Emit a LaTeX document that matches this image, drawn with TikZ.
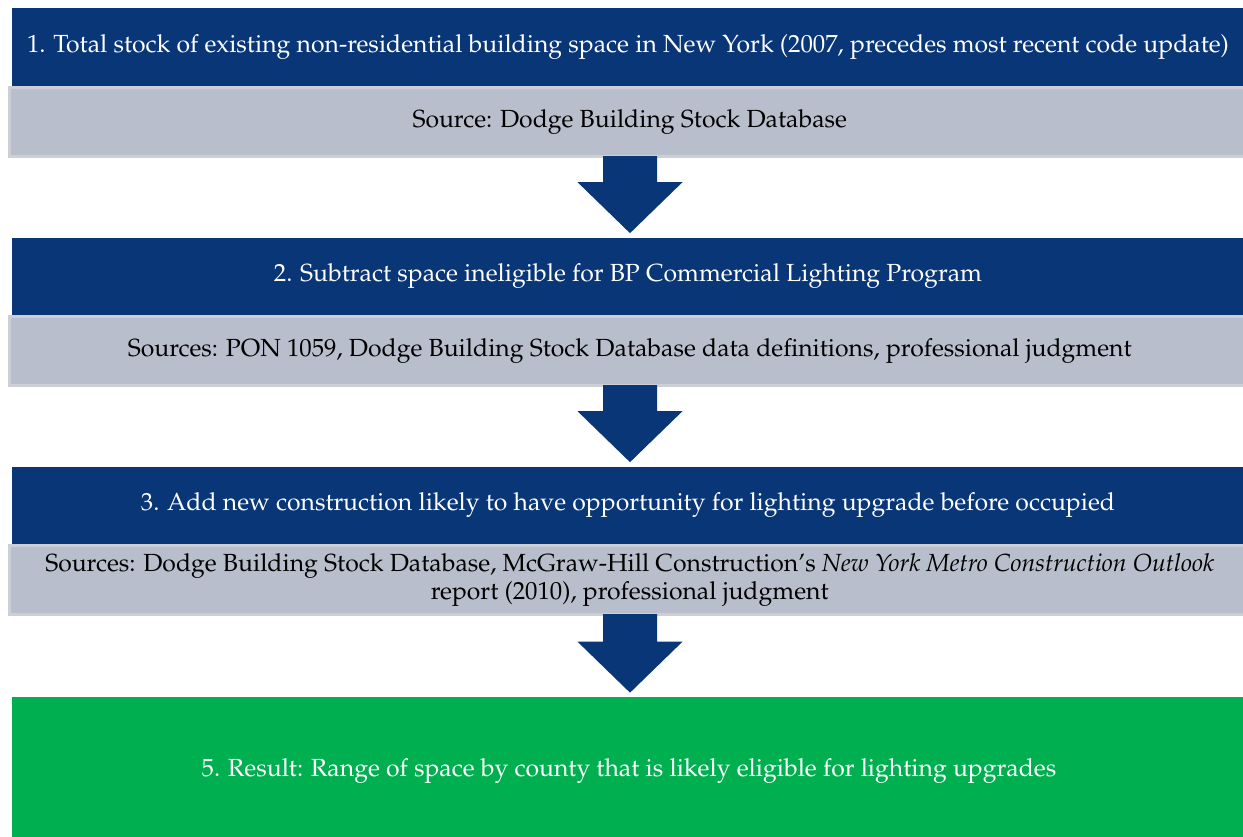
\documentclass[tikz,border=0pt]{standalone}
\usepackage[T1]{fontenc}
\usepackage{mathpazo}
\usetikzlibrary{calc}

\definecolor{stepblue}{RGB}{9,54,118}
\definecolor{srcgray}{RGB}{184,190,203}
\definecolor{srcedge}{RGB}{205,207,214}
\definecolor{resgreen}{RGB}{0,176,80}

\newcommand{\flowarrow}[2]{%
  \fill[stepblue] ($(#1.south -| ax)+(-27,-2)$) -- ($(#1.south -| ax)+(27,-2)$)
    -- ($(#2.north -| ax)+(27,-55)$) -- ($(#2.north -| ax)+(52.5,-55)$)
    -- ($(#2.north -| ax)+(0,-4)$) -- ($(#2.north -| ax)+(-52.5,-55)$)
    -- ($(#2.north -| ax)+(-27,-55)$) -- cycle;}

\begin{document}
\begin{tikzpicture}[x=0.02cm, y=-0.02cm,
    stepbox/.style={fill=stepblue, text=white, minimum width=24.64cm,
      minimum height=1.56cm, inner sep=0pt, font=\fontsize{14.1}{17}\selectfont},
    srcbox/.style={fill=srcgray, draw=srcedge, line width=0.06cm, text=black,
      minimum width=24.81cm, minimum height=1.38cm, inner sep=0pt, align=center,
      font=\fontsize{14.1}{16}\selectfont},
    resbox/.style={fill=resgreen, text=white, minimum width=24.68cm,
      minimum height=2.96cm, inner sep=0pt, font=\fontsize{14.1}{17}\selectfont}
    ]
    \clip (0,0) rectangle (1243,836);
    \fill[white] (0,0) rectangle (1243,836);
    \coordinate (ax) at (630,0);

    \node[stepbox] (s1) at (628,47) {1. Total stock of existing non-residential building space in New York (2007, precedes most recent code update)};
    \node[srcbox] (g1) at (629.75,122) {Source: Dodge Building Stock Database};

    \node[stepbox] (s2) at (628,276.5) {2. Subtract space ineligible for BP Commercial Lighting Program};
    \node[srcbox] (g2) at (629.75,351) {Sources: PON 1059, Dodge Building Stock Database data definitions, professional judgment};

    \node[stepbox] (s3) at (628,505.5) {3. Add new construction likely to have opportunity for lighting upgrade before occupied};
    \node[srcbox] (g3) at (629.75,580) {Sources: Dodge Building Stock Database, McGraw-Hill Construction's \textit{New York Metro Construction Outlook}\\ report (2010), professional judgment};

    \node[resbox] (r) at (629,771) {5. Result: Range of space by county that is likely eligible for lighting upgrades};

    \flowarrow{g1}{s2}
    \flowarrow{g2}{s3}
    \flowarrow{g3}{r}
\end{tikzpicture}
\end{document}
